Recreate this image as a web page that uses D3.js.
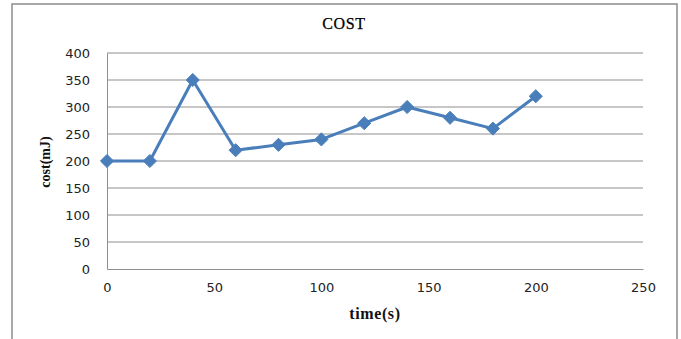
<!DOCTYPE html>
<html><head><meta charset="utf-8">
<script src="https://cdn.jsdelivr.net/npm/d3@7"></script>
<style>html,body{margin:0;padding:0;background:#fff;}svg{display:block;}</style>
</head><body>
<svg id="c" width="681" height="339"></svg>
<script>
const times = [0, 20, 40, 60, 80, 100, 120, 140, 160, 180, 200];
const costs = [200, 200, 350, 220, 230, 240, 270, 300, 280, 260, 320];
const xTicks = [0, 50, 100, 150, 200, 250];
const yTicks = [0, 50, 100, 150, 200, 250, 300, 350, 400];
const title = "COST";
const xTitle = "time(s)";
const yTitle = "cost(mJ)";

const svg = d3.select("#c");
// outer frame
svg.append("path").attr("d", "M12,340 V4 H677 V340")
  .attr("fill", "none").attr("stroke", "#8c8c8c").attr("stroke-width", 1.5);

const x = d3.scaleLinear().domain([0, 250]).range([107, 643]);
const y = d3.scaleLinear().domain([0, 400]).range([269, 53]);

// gridlines
svg.append("g").selectAll("line").data(yTicks.filter(d => d > 0)).join("line")
  .attr("x1", x(0)).attr("x2", x(250)).attr("y1", d => y(d)).attr("y2", d => y(d))
  .attr("stroke", "#8e8e8e").attr("stroke-width", 1);

// axes
const xAxis = svg.append("g").attr("transform", `translate(0,${y(0)})`)
  .call(d3.axisBottom(x).tickValues(xTicks).tickSize(0).tickPadding(14));
const yAxis = svg.append("g").attr("transform", `translate(${x(0)},0)`)
  .call(d3.axisLeft(y).tickValues(yTicks).tickSize(0).tickPadding(17));
[xAxis, yAxis].forEach(g => {
  g.select(".domain").attr("stroke", "#8e8e8e").attr("stroke-width", 1);
  g.selectAll("text").attr("font-family", "DejaVu Sans, Verdana, sans-serif")
    .attr("font-size", 13).attr("fill", "#222");
});

// line
svg.append("path").datum(times.map((t, i) => [t, costs[i]]))
  .attr("d", d3.line().x(d => x(d[0])).y(d => y(d[1])))
  .attr("fill", "none").attr("stroke", "#4a7ebb").attr("stroke-width", 3)
  .attr("stroke-linejoin", "round");

// markers
svg.append("g").selectAll("path").data(times.map((t, i) => [t, costs[i]])).join("path")
  .attr("transform", d => `translate(${x(d[0])},${y(d[1])})`)
  .attr("d", d3.symbol().type(d3.symbolDiamond2).size(110))
  .attr("fill", "#4a7ebb").attr("stroke", "#4a7ebb").attr("stroke-width", 1);

// titles
svg.append("text").attr("x", 344).attr("y", 29).attr("text-anchor", "middle")
  .attr("font-family", "Liberation Serif, Times New Roman, serif").attr("font-size", 16)
  .attr("font-weight", "normal").attr("letter-spacing", 0.6).attr("fill", "#000")
  .attr("stroke", "#000").attr("stroke-width", 0.25).text(title);
svg.append("text").attr("x", 375).attr("y", 319).attr("text-anchor", "middle")
  .attr("font-family", "Liberation Serif, Times New Roman, serif").attr("font-size", 16)
  .attr("font-weight", "bold").attr("letter-spacing", 0.6).attr("fill", "#111").text(xTitle);
svg.append("text").attr("transform", "translate(50,162) rotate(-90)").attr("text-anchor", "middle")
  .attr("font-family", "Liberation Serif, Times New Roman, serif").attr("font-size", 14)
  .attr("font-weight", "bold").attr("fill", "#111").text(yTitle);
</script>
</body></html>
